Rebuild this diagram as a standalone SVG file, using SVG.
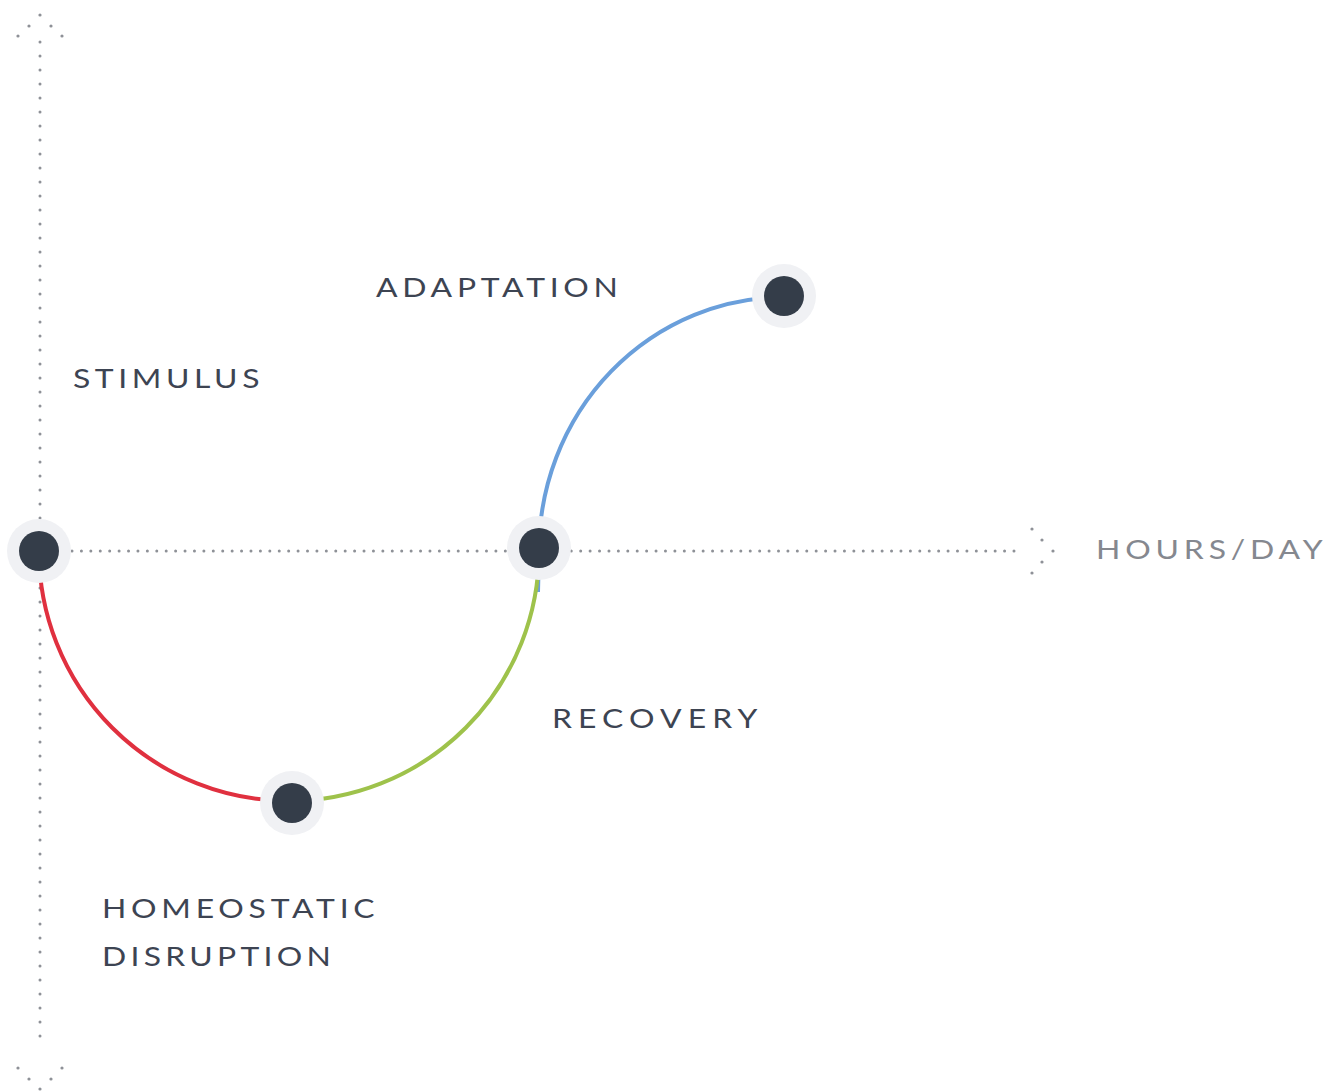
<svg xmlns="http://www.w3.org/2000/svg" width="1330" height="1091" viewBox="0 0 1330 1091">
<style>
.axis{fill:none;stroke:#8e9197;stroke-width:3;stroke-linecap:round}
.dot{fill:#8e9197}
.arc{fill:none;stroke-width:4}
.halo{fill:#f0f1f4}
.core{fill:#343d49}
.lbl{font-family:Lato,"Liberation Sans",sans-serif;font-size:27px;fill:#3d4452}
.lbl2{font-family:Lato,"Liberation Sans",sans-serif;font-size:27px;fill:#85888f}
</style>
<rect width="1330" height="1091" fill="#ffffff"/>
<g id="connectors">
  <line class="axis" x1="40" y1="42" x2="40" y2="1050" stroke-dasharray="0 14"/>
  <g id="arrow-top">
    <circle class="dot" cx="40" cy="15" r="1.6"/>
    <circle class="dot" cx="29" cy="26" r="1.6"/>
    <circle class="dot" cx="51" cy="26" r="1.6"/>
    <circle class="dot" cx="18" cy="36" r="1.6"/>
    <circle class="dot" cx="62" cy="36" r="1.6"/>
  </g>
  <g id="arrow-bottom">
    <circle class="dot" cx="18" cy="1068" r="1.6"/>
    <circle class="dot" cx="62" cy="1068" r="1.6"/>
    <circle class="dot" cx="29" cy="1079" r="1.6"/>
    <circle class="dot" cx="51" cy="1079" r="1.6"/>
    <circle class="dot" cx="40" cy="1089" r="1.6"/>
  </g>
  <line class="axis" x1="72" y1="551" x2="1014" y2="551" stroke-width="2.5" stroke-dasharray="0 9.42"/>
  <g id="arrow-right">
    <circle class="dot" cx="1032" cy="529" r="1.6"/>
    <circle class="dot" cx="1042" cy="540" r="1.6"/>
    <circle class="dot" cx="1053" cy="551" r="1.6"/>
    <circle class="dot" cx="1042" cy="562" r="1.6"/>
    <circle class="dot" cx="1032" cy="573" r="1.6"/>
  </g>
  <path class="arc" stroke="#6a9fdb" d="M538,592 L539,551 A246,254 0 0 1 785,297"/>
  <path class="arc" stroke="#e0303f" d="M39,551 A250,250 0 0 0 289,801"/>
  <path class="arc" stroke="#9ec24b" d="M289,801 A250,250 0 0 0 539,551"/>
</g>
<g id="node-stimulus">
  <circle class="halo" cx="39" cy="551" r="32"/>
  <circle class="core" cx="39" cy="551" r="20"/>
</g>
<g id="node-recovery">
  <circle class="halo" cx="539" cy="548" r="32"/>
  <circle class="core" cx="539" cy="548" r="20"/>
</g>
<g id="node-adaptation">
  <circle class="halo" cx="784" cy="296" r="32"/>
  <circle class="core" cx="784" cy="296" r="20"/>
</g>
<g id="node-disruption">
  <circle class="halo" cx="292" cy="803" r="32"/>
  <circle class="core" cx="292" cy="803" r="20"/>
</g>
<g id="labels">
  <text class="lbl" transform="translate(376,297) scale(1.18,1)" textLength="205" lengthAdjust="spacing">ADAPTATION</text>
  <text class="lbl" transform="translate(73,388) scale(1.18,1)" textLength="158" lengthAdjust="spacing">STIMULUS</text>
  <text class="lbl" transform="translate(552,728) scale(1.18,1)" textLength="174" lengthAdjust="spacing">RECOVERY</text>
  <text class="lbl" transform="translate(102,918) scale(1.18,1)" textLength="231" lengthAdjust="spacing">HOMEOSTATIC</text>
  <text class="lbl" transform="translate(102,966) scale(1.18,1)" textLength="194" lengthAdjust="spacing">DISRUPTION</text>
  <text class="lbl2" transform="translate(1096,559) scale(1.18,1)" textLength="192" lengthAdjust="spacing">HOURS/DAY</text>
</g>
</svg>
